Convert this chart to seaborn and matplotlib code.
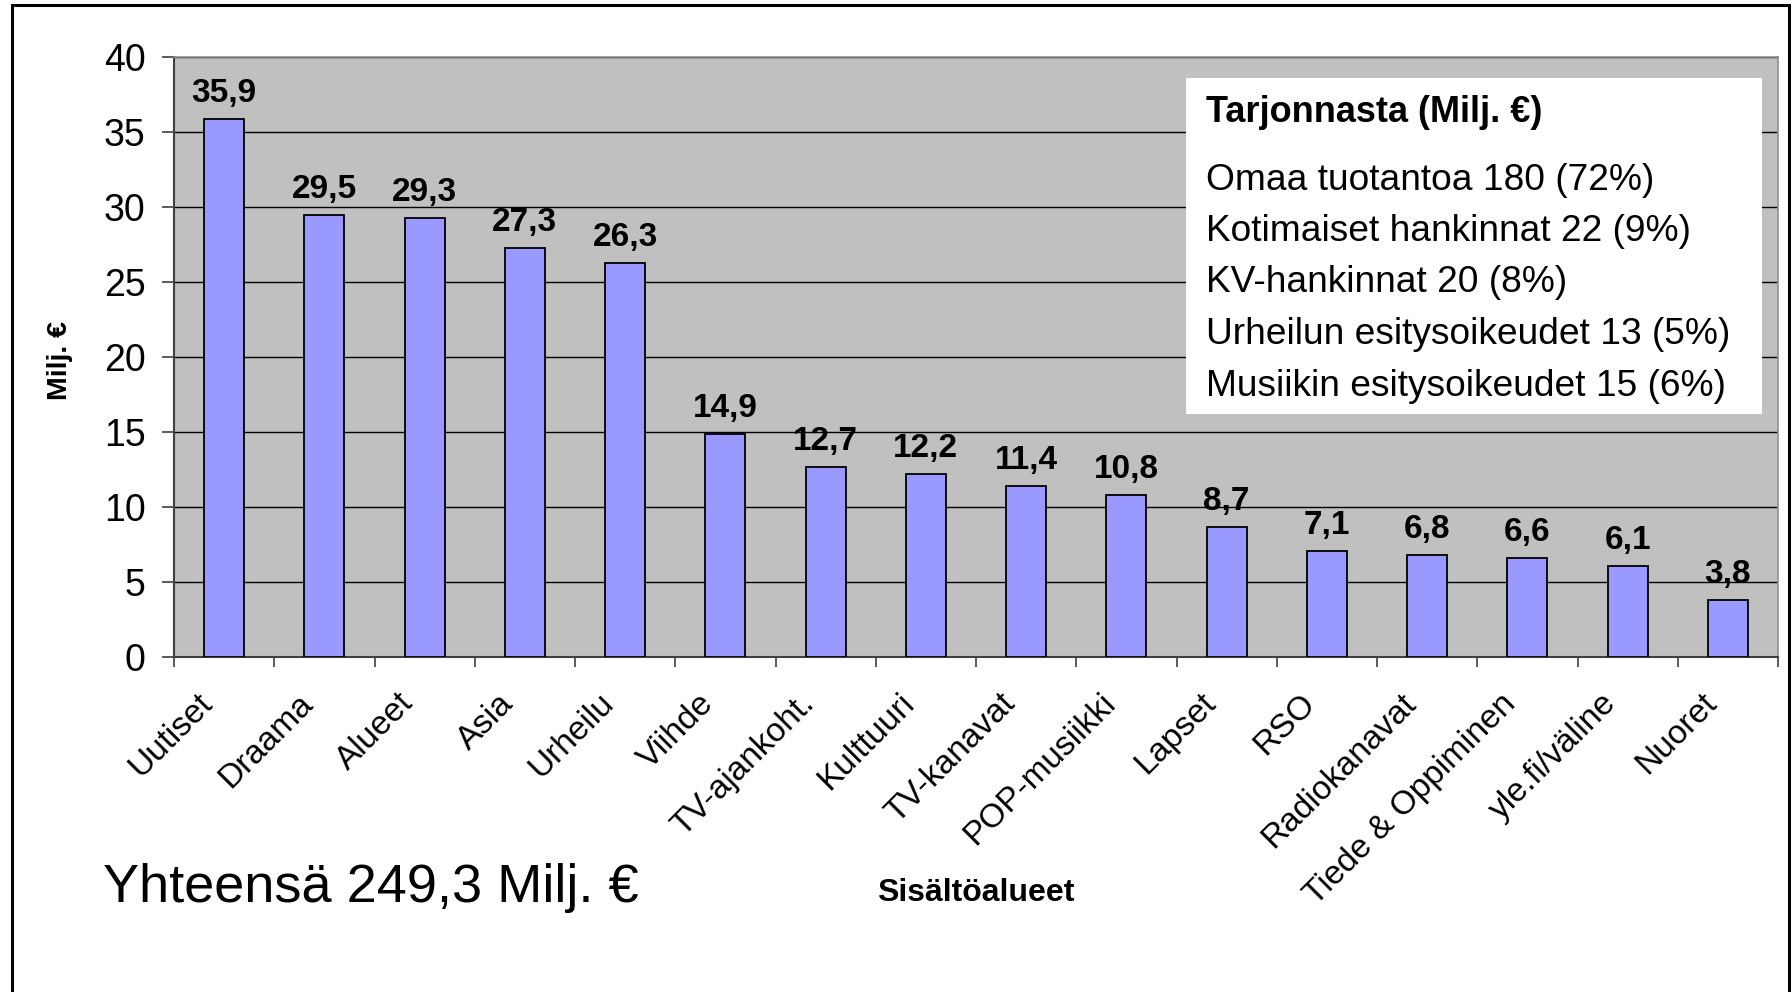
import numpy as np
import pandas as pd
import matplotlib
matplotlib.use("Agg")
import matplotlib.pyplot as plt
from matplotlib.patches import Rectangle
import seaborn as sns

categories = ["Uutiset", "Draama", "Alueet", "Asia", "Urheilu", "Viihde",
              "TV-ajankoht.", "Kulttuuri", "TV-kanavat", "POP-musiikki",
              "Lapset", "RSO", "Radiokanavat", "Tiede & Oppiminen",
              "yle.fi/väline", "Nuoret"]
values = [35.9, 29.5, 29.3, 27.3, 26.3, 14.9, 12.7, 12.2, 11.4, 10.8,
          8.7, 7.1, 6.8, 6.6, 6.1, 3.8]
yticks = [0, 5, 10, 15, 20, 25, 30, 35, 40]

box_title = "Tarjonnasta (Milj. €)"
box_lines = ["Omaa tuotantoa 180 (72%)",
             "Kotimaiset hankinnat 22 (9%)",
             "KV-hankinnat 20 (8%)",
             "Urheilun esitysoikeudet 13 (5%)",
             "Musiikin esitysoikeudet 15 (6%)"]
total_text = "Yhteensä 249,3 Milj. €"
xlabel = "Sisältöalueet"
ylabel = "Milj. €"

sns.set_style("white")
plt.rcParams['font.family'] = ['Liberation Sans', 'DejaVu Sans']
plt.rcParams['text.color'] = 'black'
plt.rcParams['xtick.color'] = 'black'
plt.rcParams['ytick.color'] = 'black'
plt.rcParams['xtick.labelcolor'] = 'black'
plt.rcParams['ytick.labelcolor'] = 'black'

W, H = 1792, 992
fig = plt.figure(figsize=(W / 100, H / 100), dpi=100)

def fx(px):
    return px / W

def fy(py):
    return 1 - py / H

# plot area in pixels
left, right, top, bottom = 174, 1778, 57, 657
ax = fig.add_axes([fx(left), fy(bottom), fx(right - left), (bottom - top) / H])

df = pd.DataFrame({"cat": categories, "val": values})
sns.barplot(data=df, x="cat", y="val", color="#9999FF", saturation=1,
            width=0.4, edgecolor="black", linewidth=1.3, ax=ax, zorder=3)

ax.set_facecolor("#C0C0C0")
ax.set_xlim(-0.5, len(categories) - 0.5)
ax.set_ylim(0, 40)
ax.set_yticks(yticks)
ax.set_yticklabels([str(v) for v in yticks], fontsize=27)
ax.yaxis.grid(True, color="black", linewidth=1.0, zorder=1)
ax.set_axisbelow(True)

# category boundaries as major ticks; labels on minor ticks, nudged left
# so the rotated text ends just left of the bar centre like the original
ax.set_xticks(np.arange(-0.5, len(categories), 1))
ax.set_xticklabels([])
ax.set_xticks(np.arange(len(categories)) - 0.16, minor=True)
ax.set_xticklabels(categories, minor=True, rotation=45, ha="right",
                   rotation_mode="anchor", va="center", fontsize=24)
ax.tick_params(axis="x", which="major", direction="out", length=7.5,
               width=1.2, color="#404040", bottom=True)
ax.tick_params(axis="x", which="minor", length=0, pad=30)
ax.tick_params(axis="y", direction="out", length=8.5, width=1.2,
               color="#404040", left=True, pad=12)
ax.set_xlabel("")
ax.set_ylabel("")

for s in ["top", "right"]:
    ax.spines[s].set_color("#909090")
    ax.spines[s].set_linewidth(1.2)
for s in ["left", "bottom"]:
    ax.spines[s].set_color("#404040")
    ax.spines[s].set_linewidth(1.5)

for i, v in enumerate(values):
    ax.annotate(f"{v:.1f}".replace(".", ","), (i, v), xytext=(0, 7),
                textcoords="offset points", ha="center", va="bottom",
                fontsize=24, fontweight="bold", zorder=5)

# info box
fig.patches.append(Rectangle((fx(1186), fy(414)), fx(1762 - 1186), (414 - 78) / H,
                             transform=fig.transFigure, facecolor="white",
                             edgecolor="none", zorder=10))
fig.text(fx(1206), fy(113), box_title, fontsize=26, fontweight="bold",
         va="center", ha="left", zorder=11)
for k, line in enumerate(box_lines):
    fig.text(fx(1206), fy(180 + k * 51.5), line, fontsize=26.7,
             va="center", ha="left", zorder=11)

fig.text(fx(103), fy(888), total_text, fontsize=39, va="center", ha="left")
fig.text(fx(976), fy(893), xlabel, fontsize=23, fontweight="bold",
         va="center", ha="center")
fig.text(fx(60), fy(360), ylabel, fontsize=20.5, fontweight="bold",
         va="center", ha="center", rotation=90)

# outer frame
fig.patches.append(Rectangle((fx(12), fy(1010)), fx(1789 - 12), (1010 - 5) / H,
                             transform=fig.transFigure, facecolor="none",
                             edgecolor="black", linewidth=2.2, clip_on=False))

fig.savefig("out.png", dpi=100)
plt.close(fig)
